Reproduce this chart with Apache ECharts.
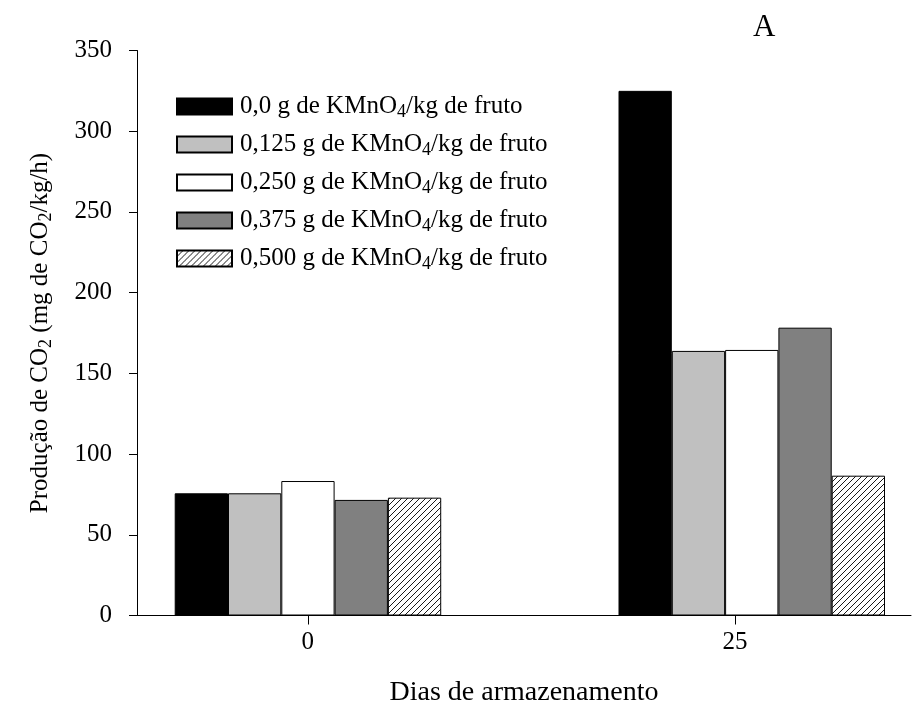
<!DOCTYPE html>
<html>
<head>
<meta charset="utf-8">
<script src="https://cdn.jsdelivr.net/npm/echarts@6/dist/echarts.min.js"></script>
<style>html,body{margin:0;padding:0;background:#fff}#c{width:921px;height:724px}</style>
</head>
<body>
<div id="c"></div>
<script>
// Data
const days = [0, 25];
const seriesNames = [
  '0,0 g de KMnO4/kg de fruto',
  '0,125 g de KMnO4/kg de fruto',
  '0,250 g de KMnO4/kg de fruto',
  '0,375 g de KMnO4/kg de fruto',
  '0,500 g de KMnO4/kg de fruto'
];
const kmno0 = [75.7, 325.0];
const kmno125 = [75.7, 163.9];
const kmno250 = [83.3, 164.5];
const kmno375 = [71.6, 178.3];
const kmno500 = [73.0, 86.6];
const yTickValues = [0, 50, 100, 150, 200, 250, 300, 350];

const values = [kmno0, kmno125, kmno250, kmno375, kmno500];

// hatch pattern
const pc = document.createElement('canvas');
pc.width = 6; pc.height = 6;
const px = pc.getContext('2d');
px.fillStyle = '#fff'; px.fillRect(0, 0, 6, 6);
px.strokeStyle = '#000'; px.lineWidth = 0.9;
px.beginPath();
px.moveTo(0, 6); px.lineTo(6, 0);
px.moveTo(-1, 1); px.lineTo(1, -1);
px.moveTo(5, 7); px.lineTo(7, 5);
px.stroke();

const fills = ['#000000', '#c0c0c0', '#ffffff', '#808080', {image: pc, repeat: 'repeat'}];

const FONT = 'Liberation Serif';
const subLegend = {fontSize: 18, fontFamily: FONT, color: '#000', padding: [12, 0, 0, 0]};
const subName = {fontSize: 18, fontFamily: FONT, color: '#000', padding: [12, 0, 0, 0]};

const chart = echarts.init(document.getElementById('c'), null, {renderer: 'canvas'});
chart.setOption({
  animation: false,
  backgroundColor: '#fff',
  title: {
    text: 'A', left: 748, top: 7,
    textStyle: {fontFamily: FONT, fontSize: 31, fontWeight: 'normal', color: '#000'}
  },
  grid: {left: 137, right: 10, top: 50.5, bottom: 108.5, containLabel: false},
  legend: {
    orient: 'vertical', left: 176, top: 94, padding: 0,
    itemWidth: 55, itemHeight: 16, itemGap: 10.5,
    icon: 'rect',
    formatter: n => n.replace('KMnO4', 'KMnO{sub|4}'),
    textStyle: {fontFamily: FONT, fontSize: 25, color: '#000', padding: [0, 0, 0, 3], rich: {sub: subLegend}},
    data: seriesNames
  },
  xAxis: [
    {
      type: 'value', min: -10, max: 35.3,
      position: 'bottom',
      axisLine: {show: true, onZero: false, lineStyle: {color: '#000', width: 1}},
      axisTick: {show: true, length: 9, customValues: days, lineStyle: {color: '#000'}},
      axisLabel: {customValues: days, formatter: v => String(v), fontFamily: FONT, fontSize: 25, color: '#000', margin: 14},
      splitLine: {show: false},
      name: 'Dias de armazenamento', nameLocation: 'middle', nameGap: 63,
      nameTextStyle: {fontFamily: FONT, fontSize: 28, color: '#000'}
    },
    {
      type: 'value', min: -9.63, max: 33.97, show: false,
      splitLine: {show: false}
    }
  ],
  yAxis: {
    type: 'value', min: 0, max: 350, interval: 50,
    axisLine: {show: true, onZero: false, lineStyle: {color: '#000', width: 1}},
    axisTick: {show: true, length: 8, lineStyle: {color: '#000'}},
    axisLabel: {fontFamily: FONT, fontSize: 25, color: '#000', margin: 25},
    splitLine: {show: false},
    name: 'Produção de CO{sub|2} (mg de CO{sub|2}/kg/h)',
    nameLocation: 'middle', nameGap: 82,
    nameTextStyle: {fontFamily: FONT, fontSize: 25, color: '#000', rich: {sub: subName}}
  },
  series: seriesNames.map((name, i) => ({
    name: name,
    type: 'bar',
    xAxisIndex: 1,
    barWidth: 53.3,
    barGap: '0%',
    itemStyle: {color: fills[i], borderColor: '#000', borderWidth: 1},
    data: days.map((d, j) => [d, values[i][j]])
  }))
});
</script>
</body>
</html>
